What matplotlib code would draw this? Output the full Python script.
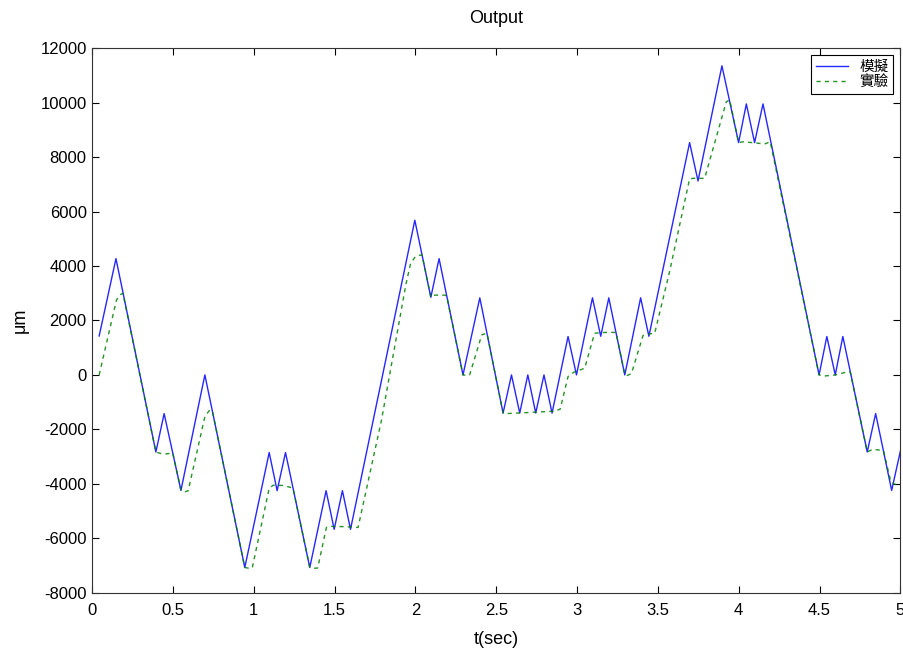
import matplotlib
matplotlib.use("Agg")
import matplotlib.pyplot as plt

plt.rcParams['font.family'] = ['Liberation Sans', 'Noto Sans CJK TC', 'DejaVu Sans']
plt.rcParams['axes.unicode_minus'] = False

# simulated (blue) - vertices of the triangle wave
sim_t = [0.043, 0.147, 0.394, 0.445, 0.549, 0.697, 0.944, 1.095, 1.144, 1.196,
         1.346, 1.447, 1.497, 1.548, 1.598, 1.996, 2.095, 2.146, 2.294, 2.398,
         2.542, 2.594, 2.645, 2.695, 2.744, 2.795, 2.845, 2.944, 2.996, 3.095,
         3.146, 3.196, 3.295, 3.393, 3.444, 3.696, 3.748, 3.896, 3.999, 4.047,
         4.098, 4.150, 4.497, 4.545, 4.597, 4.644, 4.795, 4.847, 4.946, 5.0]
sim_y = [1430, 4270, -2830, -1420, -4240, 0, -7070, -2850, -4250, -2850,
         -7070, -4250, -5670, -4250, -5670, 5680, 2850, 4270, 0, 2830,
         -1400, 0, -1400, 0, -1400, 0, -1400, 1410, 0, 2830,
         1420, 2830, 0, 2830, 1420, 8530, 7120, 11350, 8530, 9950,
         8530, 9950, 0, 1410, 0, 1410, -2830, -1420, -4240, -2800]

# experiment (green)
exp_t = [0.043, 0.15, 0.175, 0.19, 0.394, 0.42, 0.46, 0.498, 0.549, 0.575,
         0.594, 0.697, 0.728, 0.745, 0.944, 0.97, 0.99, 1.095, 1.12, 1.18,
         1.242, 1.346, 1.37, 1.395, 1.449, 1.47, 1.55, 1.645, 1.79, 1.94,
         1.97, 2.0, 2.03, 2.041, 2.095, 2.12, 2.18, 2.193, 2.294, 2.32,
         2.335, 2.41, 2.44, 2.445, 2.542, 2.56, 2.70, 2.86, 2.895, 2.944,
         2.98, 3.047, 3.108, 3.17, 3.232, 3.241, 3.295, 3.31, 3.336, 3.408,
         3.44, 3.48, 3.572, 3.696, 3.72, 3.789, 3.923, 3.944, 3.999, 4.025,
         4.10, 4.16, 4.195, 4.497, 4.53, 4.60, 4.675, 4.69, 4.795, 4.83,
         4.895, 4.94, 4.96, 5.0]
exp_y = [0, 2750, 2950, 3000, -2830, -2880, -2900, -2860, -4240, -4290,
         -4250, -1530, -1280, -1370, -7070, -7100, -7090, -4160, -4050, -4060,
         -4150, -7070, -7100, -7090, -5600, -5560, -5570, -5600, -1650, 3300,
         4100, 4350, 4400, 4400, 2850, 2930, 2930, 2900, 0, -20,
         0, 1470, 1530, 1450, -1400, -1420, -1380, -1330, -1260, -60,
         100, 245, 1530, 1560, 1560, 1550, 0, -20, 50, 1450,
         1500, 1530, 3790, 7200, 7220, 7217, 10030, 10092, 8530, 8560,
         8520, 8480, 8560, 0, -40, 0, 120, 100, -2830, -2730,
         -2780, -3900, -4000, -4070]

fig = plt.figure(figsize=(9.04, 6.5), dpi=100)
ax = fig.add_axes([0.102, 0.088, 0.894, 0.838])

ax.plot(sim_t, sim_y, color='#0000ff', lw=1.0, alpha=0.85, label='模擬')
ax.plot(exp_t, exp_y, color='#008000', lw=1.0, alpha=0.85, ls=(0, (3, 3)), label='實驗')

ax.set_xlim(0, 5)
ax.set_ylim(-8000, 12000)
ax.set_xticks([0, 0.5, 1, 1.5, 2, 2.5, 3, 3.5, 4, 4.5, 5])
ax.set_xticklabels(['0', '0.5', '1', '1.5', '2', '2.5', '3', '3.5', '4', '4.5', '5'])
ax.set_yticks(range(-8000, 12001, 2000))
ax.tick_params(direction='in', top=True, right=True, length=5, width=0.8,
               labelsize=12)
ax.tick_params(axis='x', pad=7)
ax.tick_params(axis='y', pad=4)
for s in ax.spines.values():
    s.set_linewidth(0.8)
    s.set_color('#333333')

ax.set_title('Output', fontsize=13, pad=18)
ax.set_xlabel('t(sec)', fontsize=13, labelpad=10)
ax.set_ylabel('μm', fontsize=13, labelpad=8)

leg = ax.legend(loc='upper right', fontsize=10.5, fancybox=False, framealpha=1,
                edgecolor='black', handlelength=2.2, borderpad=0.3,
                labelspacing=0.1, borderaxespad=0.5)
leg.get_frame().set_linewidth(0.8)

fig.savefig('out.png', dpi=100)
